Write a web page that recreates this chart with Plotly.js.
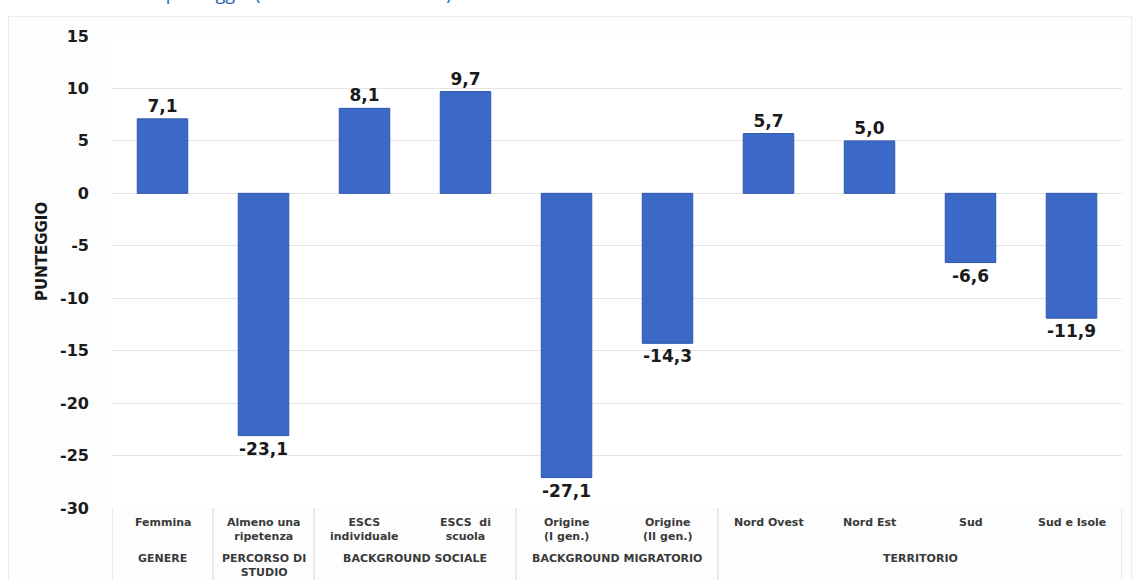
<!DOCTYPE html>
<html>
<head>
<meta charset="utf-8">
<script src="https://cdn.plot.ly/plotly-3.0.1.min.js"></script>
<style>
html,body{margin:0;padding:0;background:#ffffff;}
#frame{position:absolute;left:8px;top:16px;width:1122px;height:600px;border:1px solid #ececec;background:#fdfdfd;}
#chart{position:absolute;left:0;top:0;width:1136px;height:580px;}
</style>
</head>
<body>
<div id="frame"></div>
<div id="chart"></div>
<script>
// ---- data ----
const categories = ["Femmina", "Almeno una<br>ripetenza", "ESCS<br>individuale", "ESCS  di<br>scuola",
  "Origine<br>(I gen.)", "Origine<br>(II gen.)", "Nord Ovest", "Nord Est", "Sud", "Sud e Isole"];
const values = [7.1, -23.1, 8.1, 9.7, -27.1, -14.3, 5.7, 5.0, -6.6, -11.9];
const groups = ["GENERE", "PERCORSO DI<br>STUDIO", "BACKGROUND SOCIALE", "BACKGROUND MIGRATORIO", "TERRITORIO"];
const groupStart = [0, 1, 2, 4, 6];
const groupEnd = [0, 1, 3, 5, 9];
const yTickVals = [15, 10, 5, 0, -5, -10, -15, -20, -25, -30];
const yTickText = ["15", "10", "5", "0", "-5", "-10", "-15", "-20", "-25", "-30"];
const yTitle = "PUNTEGGIO";
const topTitle = "Differenze di punteggio (ITALIANO – GRADO 13)";

const xIdx = categories.map((_, i) => i);
const labels = values.map(v => v.toFixed(1).replace('.', ','));

const trace = {
  type: 'bar',
  x: xIdx,
  y: values,
  width: 0.5,
  text: labels,
  textposition: 'outside',
  cliponaxis: false,
  textfont: {family: 'DejaVu Sans', size: 17, color: '#1a1a1a', weight: 'bold'},
  marker: {color: '#3c68c8', line: {color: '#2f57ae', width: 1}},
  hoverinfo: 'skip'
};

const annotations = [];
categories.forEach((c, i) => {
  annotations.push({
    xref: 'x', yref: 'paper', x: i, y: -0.0127, yanchor: 'top', xanchor: 'center',
    text: c, showarrow: false,
    font: {family: 'DejaVu Sans', size: 11, color: '#3a3a3a', weight: 'bold'}
  });
});
groups.forEach((g, k) => {
  annotations.push({
    xref: 'x', yref: 'paper', x: (groupStart[k] + groupEnd[k]) / 2, y: -0.088, yanchor: 'top', xanchor: 'center',
    text: g, showarrow: false,
    font: {family: 'DejaVu Sans', size: 11, color: '#3a3a3a', weight: 'bold'}
  });
});
annotations.push({
  xref: 'paper', yref: 'paper', x: (42 - 112) / 1010, y: (508 - 252) / 472,
  xanchor: 'center', yanchor: 'middle', textangle: -90, text: yTitle, showarrow: false,
  font: {family: 'DejaVu Sans', size: 15, color: '#1a1a1a', weight: 'bold'}
});
annotations.push({
  xref: 'paper', yref: 'paper', x: (52 - 112) / 1010, y: (508 - 7) / 472,
  xanchor: 'left', yanchor: 'bottom', text: topTitle, showarrow: false,
  font: {family: 'Open Sans', size: 18, color: '#1f5fb0'}
});

const shapes = [];
const bounds = [-0.5].concat(groupEnd.map(e => e + 0.5));
bounds.forEach(b => {
  shapes.push({type: 'line', xref: 'x', yref: 'paper', x0: b, x1: b, y0: 0, y1: -0.2,
    line: {color: '#d6d6d6', width: 1}});
});

const layout = {
  width: 1136, height: 580,
  margin: {l: 112, r: 14, t: 36, b: 72},
  paper_bgcolor: 'rgba(0,0,0,0)',
  plot_bgcolor: '#ffffff',
  showlegend: false,
  bargap: 0.5,
  xaxis: {range: [-0.5, 9.5], showticklabels: false, showgrid: false, zeroline: false, showline: false, fixedrange: true},
  yaxis: {
    range: [-30, 15], tickvals: yTickVals, ticktext: yTickText,
    showgrid: true, gridcolor: '#e4e4e4', gridwidth: 1, zeroline: false, showline: false,
    ticks: '', ticklabelstandoff: 22,
    tickfont: {family: 'DejaVu Sans', size: 16, color: '#1a1a1a', weight: 'bold'}
  },
  annotations: annotations,
  shapes: shapes
};

Plotly.newPlot('chart', [trace], layout, {displayModeBar: false, staticPlot: true});
</script>
</body>
</html>
